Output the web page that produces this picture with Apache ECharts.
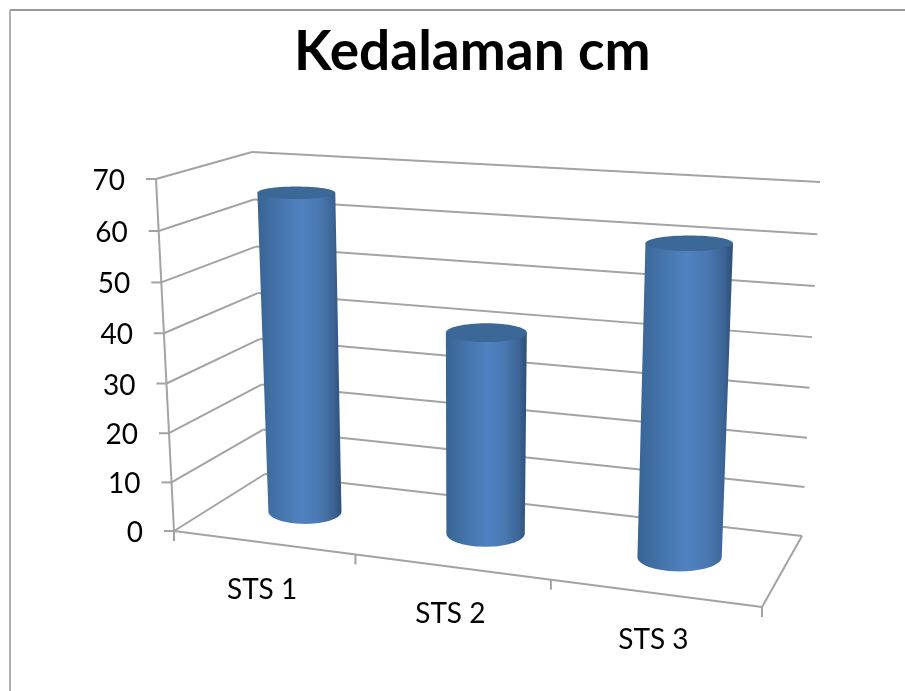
<!DOCTYPE html>
<html>
<head>
<meta charset="utf-8">
<title>Kedalaman cm</title>
<script src="https://cdn.jsdelivr.net/npm/echarts@6/dist/echarts.min.js"></script>
<style>
  html, body { margin: 0; padding: 0; background: #fff; }
  #chart { width: 905px; height: 691px; }
</style>
</head>
<body>
<div id="chart"></div>
<script>
// data
const categories = ["STS 1", "STS 2", "STS 3"];
const depthValues = [65, 40, 60];
const valueTicks = [0, 10, 20, 30, 40, 50, 60, 70];
const chartTitle = "Kedalaman cm";

// corners of the 3d box on screen: front-left, front-right, back-right, back-left
const floorQuad = [[174, 531], [762, 607], [802, 536], [265, 474]];
const topQuad = [[156, 179], [778, 215], [820, 182], [252, 152]];

const gridColor = "#a3a3a3";
const labelFont = "Lato";

function quadMap(q) {
  const [[x0, y0], [x1, y1], [x2, y2], [x3, y3]] = q;
  const dx1 = x1 - x2, dx2 = x3 - x2, sx = x0 - x1 + x2 - x3;
  const dy1 = y1 - y2, dy2 = y3 - y2, sy = y0 - y1 + y2 - y3;
  const den = dx1 * dy2 - dx2 * dy1;
  const g = (sx * dy2 - dx2 * sy) / den;
  const h = (dx1 * sy - sx * dy1) / den;
  const a = x1 - x0 + g * x1, b = x3 - x0 + h * x3;
  const d = y1 - y0 + g * y1, e = y3 - y0 + h * y3;
  return (u, w) => {
    const k = g * u + h * w + 1;
    return [(a * u + b * w + x0) / k, (d * u + e * w + y0) / k];
  };
}
const floorAt = quadMap(floorQuad);
const topAt = quadMap(topQuad);

// u: along categories, v: height, w: depth (0 front, 1 back)
function project(u, v, w) {
  const f = v / (v + 1.04 * (1 - v)); // slight perspective on the height
  const p0 = floorAt(u, w);
  const p1 = topAt(u, w);
  return [p0[0] + (p1[0] - p0[0]) * f, p0[1] + (p1[1] - p0[1]) * f];
}

// turn the hidden cartesian scales into u / v
function toUV(params, api, cat, val) {
  const pt = api.coord([cat, val]);
  const r = params.coordSys;
  return [(pt[0] - r.x) / r.width, 1 - (pt[1] - r.y) / r.height];
}

function seg(a, b, extra) {
  return {
    type: "line",
    shape: { x1: a[0], y1: a[1], x2: b[0], y2: b[1] },
    style: Object.assign({ stroke: gridColor, lineWidth: 2 }, extra),
  };
}

function renderWall(params, api) {
  const uv = toUV(params, api, 0, api.value(1));
  const v = uv[1];
  const front = project(0, v, 0);
  const corner = project(0, v, 1);
  const right = project(1, v, 1);
  const children = [
    seg(front, corner),
    seg(corner, right),
    seg([front[0] - 10, front[1]], front),
    {
      type: "text",
      style: {
        text: String(api.value(1)),
        x: front[0] - 31,
        y: front[1] + 2,
        align: "right",
        verticalAlign: "middle",
        fontFamily: labelFont,
        fontSize: 28,
        fill: "#000",
      },
    },
  ];
  if (params.dataIndex === 0) {
    // floor edges not covered by the walls, and the left upright
    children.push(seg(front, project(1, 0, 0)));
    children.push(seg(project(1, 0, 0), project(1, 0, 1)));
    children.push(seg(front, project(0, 1, 0)));
    children.push(seg(front, [front[0], front[1] + 10]));
  }
  return { type: "group", children: children };
}

function renderCategory(params, api) {
  const i = params.dataIndex;
  const n = categories.length;
  const mid = project(toUV(params, api, i, 0)[0], 0, 0);
  const tick = project((i + 1) / n, 0, 0);
  return {
    type: "group",
    children: [
      seg(tick, [tick[0], tick[1] + 10]),
      {
        type: "text",
        style: {
          text: categories[i],
          x: mid[0] - 1,
          y: mid[1] + 47,
          align: "center",
          verticalAlign: "middle",
          fontFamily: labelFont,
          fontSize: 28,
          fill: "#000",
        },
      },
    ],
  };
}

function renderCylinder(params, api) {
  const i = params.dataIndex;
  const uv = toUV(params, api, i, api.value(1));
  const u = uv[0], v = uv[1];
  const ru = 0.07, rw = 0.21;
  const radii = (h) => [
    Math.abs(project(u + ru, h, 0.5)[0] - project(u - ru, h, 0.5)[0]) / 2,
    Math.abs(project(u, h, 0.5 + rw)[1] - project(u, h, 0.5 - rw)[1]) / 2,
  ];
  const bottom = project(u, 0, 0.5);
  const top = project(u, v, 0.5);
  bottom[0] -= 2.5 - 1.5 * u;
  top[0] -= 2.5;
  top[1] -= 2.5;
  const rb = radii(0);
  const rt = radii(v);

  const pts = [];
  for (let a = 0; a <= 40; a++) {
    const t = (Math.PI * a) / 40;
    pts.push([bottom[0] + rb[0] * Math.cos(t), bottom[1] + rb[1] * Math.sin(t)]);
  }
  pts.push([top[0] - rt[0], top[1]]);
  pts.push([top[0] + rt[0], top[1]]);

  return {
    type: "group",
    children: [
      {
        type: "polygon",
        shape: { points: pts },
        style: {
          fill: new echarts.graphic.LinearGradient(0, 0, 1, 0, [
            { offset: 0, color: "#386494" },
            { offset: 0.25, color: "#4574ab" },
            { offset: 0.52, color: "#4f82c0" },
            { offset: 0.72, color: "#4a79b3" },
            { offset: 0.9, color: "#3c6596" },
            { offset: 1, color: "#2f4f78" },
          ]),
        },
      },
      {
        type: "ellipse",
        shape: { cx: top[0], cy: top[1], rx: rt[0], ry: rt[1] },
        style: { fill: "#3c6898" },
      },
    ],
  };
}

const chart = echarts.init(document.getElementById("chart"));
chart.setOption({
  animation: false,
  backgroundColor: "#fff",
  title: {
    text: chartTitle,
    left: 294,
    top: 25,
    textStyle: { fontFamily: labelFont, fontSize: 55, fontWeight: "bold", color: "#000" },
    padding: 0,
    itemGap: 0,
  },
  graphic: [
    { type: "line", shape: { x1: 10, y1: 10, x2: 905, y2: 10 }, style: { stroke: "#9a9a9a", lineWidth: 2 } },
    { type: "line", shape: { x1: 10, y1: 10, x2: 10, y2: 691 }, style: { stroke: "#b0b0b0", lineWidth: 2 } },
  ],
  grid: { left: 100, right: 100, top: 100, bottom: 100 },
  xAxis: { type: "category", data: categories, show: false },
  yAxis: { type: "value", min: 0, max: 70, interval: 10, show: false },
  series: [
    {
      type: "custom",
      renderItem: renderWall,
      data: valueTicks.map((t) => [0, t]),
      silent: true,
      z: 2,
    },
    {
      type: "custom",
      renderItem: renderCategory,
      data: categories.map((c, i) => [i, 0]),
      silent: true,
      z: 2,
    },
    {
      type: "custom",
      name: chartTitle,
      renderItem: renderCylinder,
      data: depthValues.map((d, i) => [i, d]),
      z: 3,
    },
  ],
});
</script>
</body>
</html>
